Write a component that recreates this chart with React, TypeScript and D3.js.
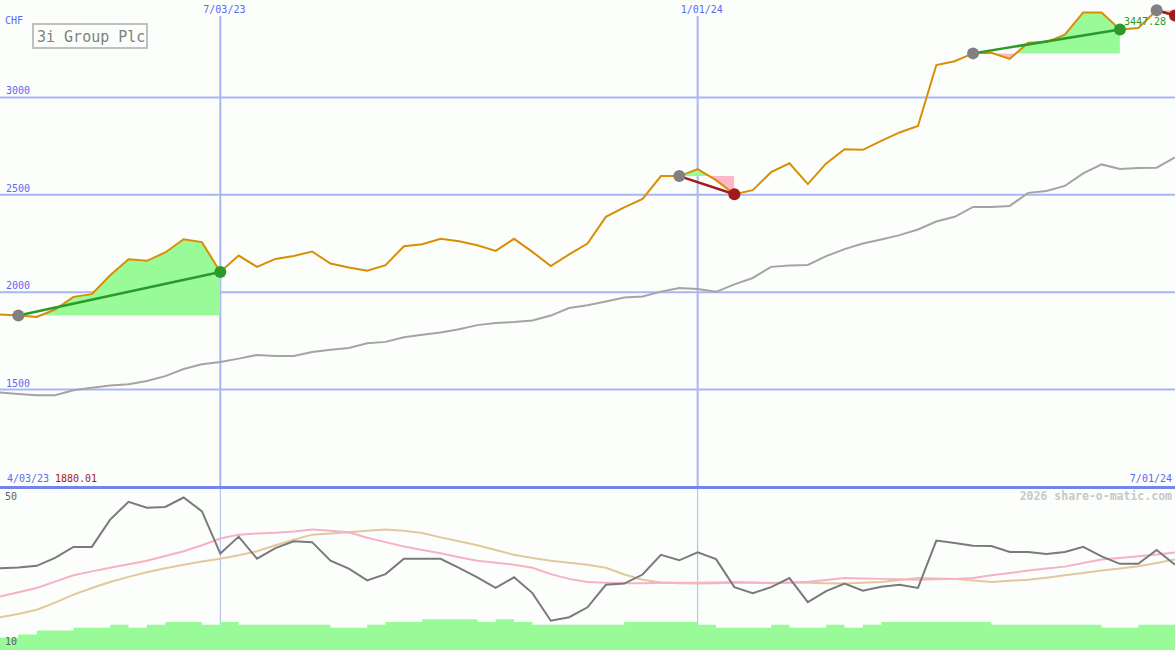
import React from "react";
import * as d3 from "d3";

// ---- data (weekly) ----
const startLabel = "4/03/23";
const endLabel = "7/01/24";
const startPriceLabel = "1880.01";
const lastPriceLabel = "3447.28";
const title = "3i Group Plc";
const currency = "CHF";

const markerDates = [
  { idx: 12, label: "7/03/23" },
  { idx: 38, label: "1/01/24" },
];

const priceTicks = [1500, 2000, 2500, 3000];

const prices = [
  1885, 1880, 1873, 1911, 1976, 1990, 2087, 2169, 2161, 2204, 2272, 2257, 2104, 2188, 2130, 2171,
  2186, 2209, 2147, 2127, 2110, 2139, 2236, 2246, 2274, 2262, 2241, 2212, 2274, 2207, 2134, 2194,
  2250, 2387, 2435, 2479, 2596, 2596, 2632, 2575, 2503, 2524, 2616, 2662, 2555, 2661, 2734, 2731,
  2777, 2820, 2853, 3166, 3186, 3226, 3229, 3198, 3280, 3284, 3322, 3436, 3436, 3349, 3356, 3447,
  3420,
];

const movingAvg = [
  1485, 1478, 1471, 1471, 1497, 1510, 1521, 1527, 1544, 1569, 1606, 1630, 1642, 1659, 1678, 1673,
  1673, 1693, 1704, 1714, 1738, 1745, 1769, 1781, 1793, 1810, 1831, 1842, 1847, 1855, 1880, 1919,
  1933, 1952, 1973, 1978, 2003, 2022, 2017, 2002, 2040, 2073, 2130, 2137, 2140, 2185, 2221, 2250,
  2271, 2293, 2322, 2363, 2387, 2438, 2438, 2443, 2510, 2520, 2546, 2610, 2656, 2632, 2637, 2639,
  2692,
];

const trades = [
  { entry: 1, exit: 12 },
  { entry: 37, exit: 40 },
  { entry: 53, exit: 61 },
  { entry: 63, exit: 64 },
];

const indicator = [
  30.2, 30.4, 30.8, 32.8, 35.6, 35.6, 42.5, 47.0, 45.5, 45.7, 48.1, 44.6, 33.9, 38.2, 32.6, 35.3,
  37.0, 36.8, 32.1, 30.1, 27.1, 28.7, 32.6, 32.6, 32.6, 30.3, 27.9, 25.2, 27.9, 23.9, 16.9, 17.8,
  20.3, 26.0, 26.3, 28.6, 33.6, 32.2, 34.2, 32.5, 25.4, 23.9, 25.4, 27.7, 21.6, 24.4, 26.3, 24.5,
  25.5, 26.0, 25.2, 37.2, 36.6, 35.9, 35.8, 34.3, 34.3, 33.8, 34.3, 35.6, 33.2, 31.3, 31.3, 34.8,
  31.1,
];

const indicatorFast = [
  23.0, 24.1, 25.2, 26.8, 28.4, 29.4, 30.3, 31.2, 32.1, 33.3, 34.5, 36.0, 37.7, 38.7, 39.0, 39.2,
  39.5, 40.0, 39.7, 39.3, 37.9, 36.8, 35.7, 34.8, 34.0, 33.0, 32.1, 31.6, 31.1, 30.3, 28.7, 27.5,
  26.7, 26.5, 26.4, 26.4, 26.5, 26.5, 26.5, 26.6, 26.7, 26.6, 26.4, 26.6, 26.8, 27.2, 27.7, 27.6,
  27.5, 27.4, 27.3, 27.4, 27.5, 27.7, 28.4, 29.0, 29.6, 30.1, 30.6, 31.5, 32.4, 32.8, 33.2, 33.7,
  34.2,
];

const indicatorSlow = [
  17.8, 18.6, 19.7, 21.5, 23.5, 25.2, 26.7, 28.0, 29.2, 30.2, 31.1, 31.9, 32.6, 33.5, 34.5, 36.0,
  37.4, 38.7, 39.0, 39.3, 39.7, 40.0, 39.7, 39.1, 38.0, 37.0, 36.0, 34.8, 33.6, 32.8, 32.1, 31.6,
  31.1, 30.3, 28.6, 27.3, 26.6, 26.4, 26.3, 26.4, 26.5, 26.5, 26.5, 26.5, 26.5, 26.4, 26.3, 26.5,
  26.7, 27.2, 27.7, 27.6, 27.5, 27.1, 26.7, 27.0, 27.3, 27.8, 28.4, 29.0, 29.6, 30.1, 30.7, 31.5,
  32.4,
];

const volumeBars = [
  12.6, 13.4, 14.4, 14.4, 15.1, 15.1, 15.9, 15.1, 15.9, 16.6, 16.6, 15.9, 16.6, 15.9, 15.9, 15.9,
  15.9, 15.9, 15.1, 15.1, 15.9, 16.6, 16.6, 17.3, 17.3, 17.3, 16.6, 17.3, 16.6, 15.9, 15.9, 15.9,
  15.9, 15.9, 16.6, 16.6, 16.6, 16.6, 15.9, 15.1, 15.1, 15.1, 15.9, 15.1, 15.1, 15.9, 15.1, 15.9,
  16.6, 16.6, 16.6, 16.6, 16.6, 16.6, 15.9, 15.9, 15.9, 15.9, 15.9, 15.9, 15.1, 15.1, 15.9, 15.9,
  15.9,
];

const lowTicks = [10, 50];

// ---- layout ----
const W = 1175;
const H = 650;
const mainBottom = 487;
const FONT = "'DejaVu Sans Mono', monospace";
const BLUE_TXT = "#5a6af0";
const GRID = "#a8b6f2";
const ORANGE = "#d98e04";
const GREEN = "#2a9a2a";
const RED = "#a01c1c";
const FILL_G = "#98fb98";
const FILL_R = "#ffb6c8";

export default function App() {
  const x = d3.scaleLinear().domain([0, prices.length - 1]).range([0, W]);
  const y = d3.scaleLinear().domain([1000, 3500]).range([mainBottom, 0]);
  const yl = d3.scaleLinear().domain([10, 50]).range([648, 490]);

  const idx = d3.range(prices.length);
  const priceLine = d3.line<number>().x((i) => x(i)).y((i) => y(prices[i]))(idx) || "";
  const maLine = d3.line<number>().x((i) => x(i)).y((i) => y(movingAvg[i]))(idx) || "";

  const lineOf = (arr: number[]) =>
    d3.line<number>().x((i) => x(i)).y((i) => yl(arr[i]))(idx) || "";

  const bars =
    d3
      .area<number>()
      .curve(d3.curveStepAfter)
      .x((i) => x(i))
      .y0(H)
      .y1((i) => yl(volumeBars[i]))(idx) || "";

  return (
    <svg
      width={W}
      height={H}
      style={{ position: "absolute", left: 0, top: 0, background: "#fcfefc" }}
      fontFamily={FONT}
    >
      <defs>
        {trades.map((t, k) => {
          const ey = y(prices[t.entry]);
          return (
            <React.Fragment key={k}>
              <clipPath id={`cg${k}`}>
                <rect x={x(t.entry)} y={0} width={x(t.exit) - x(t.entry)} height={ey} />
              </clipPath>
              <clipPath id={`cr${k}`}>
                <rect x={x(t.entry)} y={ey} width={x(t.exit) - x(t.entry)} height={mainBottom - ey} />
              </clipPath>
            </React.Fragment>
          );
        })}
        <clipPath id="lowclip">
          <rect x={0} y={489} width={W} height={H - 489} />
        </clipPath>
      </defs>
      <rect x={0} y={0} width={W} height={H} fill="#fcfefc" />

      {/* main grid */}
      {priceTicks.map((v) => (
        <g key={v}>
          <line x1={0} x2={W} y1={y(v)} y2={y(v)} stroke={GRID} strokeWidth={2} />
          <text x={6} y={y(v) - 3} fontSize={10} fill={BLUE_TXT}>
            {v}
          </text>
        </g>
      ))}
      {markerDates.map((m) => (
        <g key={m.label}>
          <line x1={x(m.idx)} x2={x(m.idx)} y1={16} y2={mainBottom} stroke={GRID} strokeWidth={2} />
          <text x={x(m.idx) - 17} y={13} fontSize={10} fill={BLUE_TXT}>
            {m.label}
          </text>
          <line x1={x(m.idx)} x2={x(m.idx)} y1={489} y2={H} stroke={GRID} strokeWidth={1} />
        </g>
      ))}
      <text x={5} y={24} fontSize={10} fill={BLUE_TXT}>
        {currency}
      </text>

      {/* trade fills */}
      {trades.map((t, k) => {
        const ids = d3.range(t.entry, t.exit + 1);
        const ey = y(prices[t.entry]);
        const a =
          d3
            .area<number>()
            .x((i) => x(i))
            .y0(ey)
            .y1((i) => y(prices[i]))(ids) || "";
        return (
          <g key={k}>
            <path d={a} fill={FILL_G} clipPath={`url(#cg${k})`} />
            <path d={a} fill={FILL_R} clipPath={`url(#cr${k})`} />
          </g>
        );
      })}

      {/* moving average and price */}
      <path d={maLine} fill="none" stroke="#a4a4a4" strokeWidth={2} />
      <path d={priceLine} fill="none" stroke={ORANGE} strokeWidth={2} />

      {/* trade lines and markers */}
      {trades.map((t, k) => {
        const win = prices[t.exit] >= prices[t.entry];
        const c = win ? GREEN : RED;
        return (
          <g key={k}>
            <line
              x1={x(t.entry)}
              y1={y(prices[t.entry])}
              x2={x(t.exit)}
              y2={y(prices[t.exit])}
              stroke={c}
              strokeWidth={2.5}
            />
            <circle cx={x(t.entry)} cy={y(prices[t.entry])} r={6} fill="#808080" />
            <circle cx={x(t.exit)} cy={y(prices[t.exit])} r={6} fill={c} />
          </g>
        );
      })}
      <text x={1124} y={25} fontSize={10} fill={GREEN}>
        {lastPriceLabel}
      </text>

      {/* legend */}
      <rect x={33} y={24} width={114} height={24} fill="#fcfefc" stroke="#c0c0c0" strokeWidth={2} />
      <text x={37} y={42} fontSize={15} fill="#808080">
        {title}
      </text>

      {/* bottom labels */}
      <text x={7} y={482} fontSize={10} fill={BLUE_TXT}>
        {startLabel}
      </text>
      <text x={55} y={482} fontSize={10} fill={RED}>
        {startPriceLabel}
      </text>
      <text x={1172} y={482} fontSize={10} fill={BLUE_TXT} textAnchor="end">
        {endLabel}
      </text>

      {/* divider */}
      <line x1={0} x2={W} y1={487.5} y2={487.5} stroke="#7484e8" strokeWidth={3} />

      {/* lower panel */}
      <g clipPath="url(#lowclip)">
        <path d={bars} fill={FILL_G} />
        <path d={lineOf(indicatorSlow)} fill="none" stroke="#e2c99c" strokeWidth={2} />
        <path d={lineOf(indicatorFast)} fill="none" stroke="#f8b0c8" strokeWidth={2} />
        <path d={lineOf(indicator)} fill="none" stroke="#7a7a7a" strokeWidth={2} />
      </g>
      <text x={5} y={500} fontSize={10} fill="#606060">
        {lowTicks[1]}
      </text>
      <text x={5} y={645} fontSize={10} fill="#606060">
        {lowTicks[0]}
      </text>
      <text x={1172} y={500} fontSize={11.5} fontWeight="bold" fill="#c8c8c8" textAnchor="end">
        2026 share-o-matic.com
      </text>
    </svg>
  );
}
